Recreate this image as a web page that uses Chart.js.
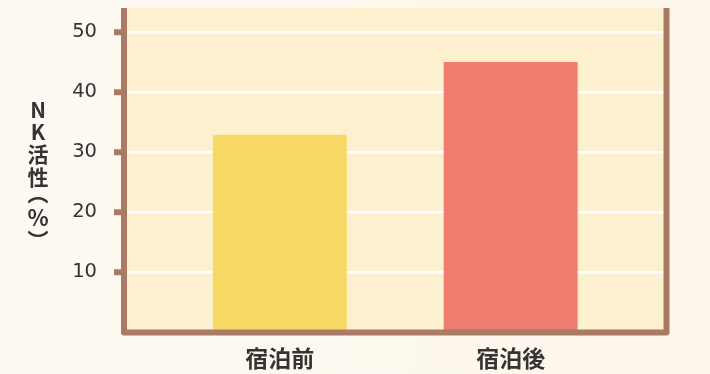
<!DOCTYPE html>
<html lang="ja">
<head>
<meta charset="utf-8">
<title>NK活性</title>
<script src="https://cdn.jsdelivr.net/npm/chart.js@4/dist/chart.umd.min.js"></script>
<style>
    html, body {
        margin: 0;
        padding: 0;
        background: linear-gradient(90deg, #fefaf3 0%, #fdf8ee 60%, #fdf6ec 100%);
    }
    #wrap {
        width: 710px;
        height: 374px;
    }
</style>
</head>
<body>
<div id="wrap"><canvas id="nkChart" width="710" height="374"></canvas></div>
<script>
const categories = ['宿泊前', '宿泊後'];
const nkActivity = [32.9, 45];
const yTicks = [10, 20, 30, 40, 50];
const yMax = 54;
const yTitle = 'NK活性（%）';

const colors = {
    plot: '#fdf0cf',
    frame: '#a97b64',
    grid: '#ffffff',
    text: '#363333',
    bars: ['#f6d964', '#ee7d6f']
};

// plot background behind the grid
const plotBackground = {
    id: 'plotBackground',
    beforeDraw(chart) {
        const { ctx, chartArea: a } = chart;
        ctx.save();
        ctx.fillStyle = colors.plot;
        ctx.fillRect(a.left, a.top, a.right - a.left, a.bottom - a.top);
        ctx.restore();
    }
};

// brown frame: left, bottom and right sides
const plotFrame = {
    id: 'plotFrame',
    afterDatasetsDraw(chart) {
        const { ctx, chartArea: a } = chart;
        ctx.save();
        ctx.strokeStyle = colors.frame;
        ctx.lineWidth = 6;
        ctx.lineJoin = 'round';
        ctx.beginPath();
        ctx.moveTo(a.left, a.top);
        ctx.lineTo(a.left, a.bottom);
        ctx.lineTo(a.right, a.bottom);
        ctx.lineTo(a.right, a.top);
        ctx.stroke();
        ctx.restore();
    }
};

// upright vertical axis title (tategaki)
const verticalTitle = {
    id: 'verticalTitle',
    afterDraw(chart, args, opts) {
        const { ctx } = chart;
        const vertical = { '（': '︵', '）': '︶' };
        // distance to the next character
        const steps = { 'N': 22, 'K': 22, '活': 23, '性': 16, '（': 24.5, '%': 22.5 };
        ctx.save();
        ctx.fillStyle = colors.text;
        ctx.textAlign = 'center';
        ctx.textBaseline = 'middle';
        let y = opts.y;
        Array.from(opts.text).forEach((ch) => {
            ctx.font = (ch === '%' ? 'bold 22px' : 'bold 21px') + ' "Noto Sans CJK JP", sans-serif';
            ctx.fillText(vertical[ch] || ch, opts.x, y);
            y += steps[ch] || 22;
        });
        ctx.restore();
    }
};

const noPadding = (scale) => {
    scale.paddingTop = 0;
    scale.paddingBottom = 0;
    scale.paddingLeft = 0;
    scale.paddingRight = 0;
};

new Chart(document.getElementById('nkChart'), {
    type: 'bar',
    data: {
        datasets: [{
            data: categories.map((c, i) => ({ x: i, y: nkActivity[i] })),
            backgroundColor: colors.bars,
            borderWidth: 0,
            barPercentage: 0.58,
            categoryPercentage: 1
        }]
    },
    options: {
        responsive: false,
        animation: false,
        devicePixelRatio: 1,
        layout: { padding: { top: 8, right: 43.5, left: 0, bottom: 0 } },
        plugins: {
            legend: { display: false },
            tooltip: { enabled: false },
            verticalTitle: { text: yTitle, x: 38, y: 110 }
        },
        scales: {
            x: {
                type: 'linear',
                offset: false,
                min: -0.675,
                max: 1.675,
                afterBuildTicks: (scale) => {
                    scale.ticks = categories.map((c, i) => ({ value: i }));
                },
                afterFit: (scale) => {
                    scale.height = 41.5;
                    noPadding(scale);
                },
                grid: { display: false, drawTicks: false },
                border: { display: false },
                ticks: {
                    autoSkip: false,
                    maxRotation: 0,
                    padding: 12,
                    color: colors.text,
                    font: { family: '"Noto Sans CJK JP"', size: 23, weight: 'bold' },
                    callback: (value) => categories[value] ?? ''
                }
            },
            y: {
                min: 0,
                max: yMax,
                afterBuildTicks: (scale) => {
                    scale.ticks = yTicks.map((v) => ({ value: v }));
                },
                afterFit: (scale) => {
                    scale.width = 124;
                    noPadding(scale);
                },
                grid: {
                    color: colors.grid,
                    lineWidth: 2.5,
                    tickColor: colors.frame,
                    tickWidth: 6,
                    tickLength: 10
                },
                border: { display: false },
                ticks: {
                    padding: 17,
                    color: colors.text,
                    font: { family: '"DejaVu Sans"', size: 19.5 }
                }
            }
        }
    },
    plugins: [plotBackground, plotFrame, verticalTitle]
});
</script>
</body>
</html>
